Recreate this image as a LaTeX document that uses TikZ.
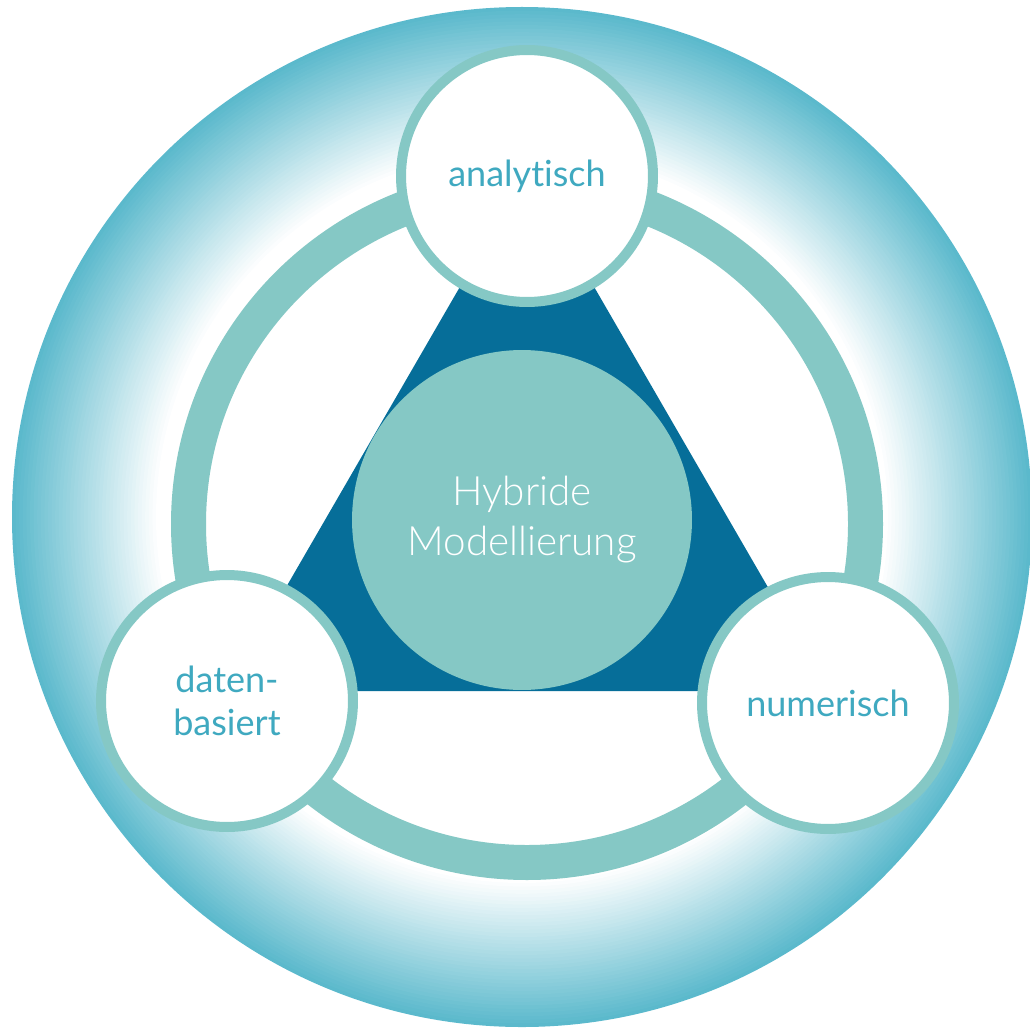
\documentclass[tikz,border=0pt]{standalone}
\usepackage{fontspec}
\setmainfont{Lato}[Ligatures=NoCommon]
\newfontfamily\thinfont{Lato}[UprightFont=* Light, Ligatures=NoCommon]
\definecolor{ringteal}{HTML}{85C8C5}
\definecolor{deepblue}{HTML}{066E99}
\definecolor{glowteal}{HTML}{5BB9CC}
\definecolor{labelteal}{HTML}{3FA9C0}
\tikzset{
	%Define style for the three method circles
	methode/.style={
		circle,
		draw=ringteal, line width=0.2cm,
		fill=white,
		minimum size=5.04cm,
		inner sep=0pt,
		align=center,
		text=labelteal,
		font=\fontsize{20.5}{24.5}\selectfont},
	%Define style for the core circle
	kern/.style={
		circle,
		fill=ringteal,
		minimum size=6.8cm,
		inner sep=0pt,
		align=center,
		text=white,
		font=\thinfont\fontsize{23}{28.5}\selectfont},
	% Define ring style
	ring/.style={
		draw=ringteal,
		line width=0.7cm}
}
\begin{document}
\begin{tikzpicture}[x=0.02cm, y=-0.02cm]
	\useasboundingbox (0,0) rectangle (1030,1027);
	
	\coordinate (mitte) at (527,524);
	\coordinate (glow) at (522,517);
	% outer disc: teal rim fading into white
	\fill[glowteal] (glow) circle (510);
	\foreach \i in {1,...,40}{
		\pgfmathsetmacro\rad{510-\i*3.6}
		\pgfmathsetmacro\mix{100-\i*2.5}
		\fill[glowteal!\mix!white] (glow) circle (\rad);
	}
	\draw[ring] (mitte) circle (338.5);            % connecting ring
	\fill[deepblue] (226,691) -- (828,691) -- (527,171) -- cycle;
	
	\node[kern] (hybrid) at (522,520) {Hybride\\Modellierung};
	
	\node[methode] (analytisch) at (527,176) {analytisch};
	\node[methode] (daten) at (227,701) {daten-\\basiert};
	\node[methode] (numerisch) at (828,703) {numerisch};
	
\end{tikzpicture}
\end{document}
